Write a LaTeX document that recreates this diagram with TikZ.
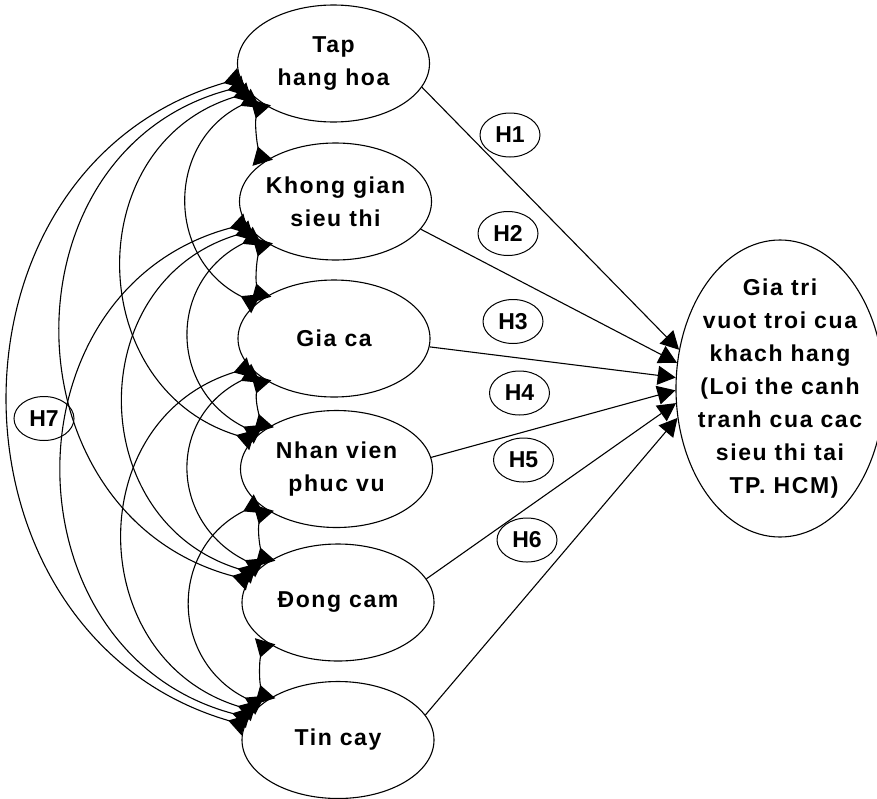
\documentclass[tikz,border=0pt]{standalone}
\usepackage{fontspec}
\setmainfont{Liberation Sans}
\newfontfamily\lblfont{Liberation Sans}[LetterSpace=7]
\newfontfamily\hfont{Liberation Sans}
\usetikzlibrary{shapes.geometric,arrows.meta}
\begin{document}
\begin{tikzpicture}[x=1pt,y=-1pt,
  construct/.style={ellipse,draw,line width=1.1pt,minimum width=192pt,minimum height=117pt,
    inner sep=-6pt,align=center,font=\lblfont\bfseries\fontsize{23}{33}\selectfont},
  target/.style={ellipse,draw,line width=1.1pt,minimum width=208pt,minimum height=297pt,
    inner sep=-14pt,align=center,font=\lblfont\bfseries\fontsize{23}{33}\selectfont},
  hyp/.style={ellipse,draw,line width=1pt,minimum width=60pt,minimum height=44pt,
    inner sep=0pt,font=\hfont\bfseries\fontsize{23}{28}\selectfont},
  link/.style={line width=1.1pt,-{Triangle[length=18pt,width=19pt]}},
  corr/.style={line width=1.1pt,{Triangle[reversed,length=17pt,width=21pt]}-{Triangle[reversed,length=17pt,width=21pt]}}
]
\useasboundingbox (0,0) rectangle (877,798);

\node[construct] (tap) at (333.5,63.5) {Tap\\hang hoa};
\node[construct] (kg)  at (335.5,201.5) {Khong gian\\sieu thi};
\node[construct] (gia) at (334,338.5) {Gia ca};
\node[construct] (nv)  at (336.5,469) {Nhan vien\\phuc vu};
\node[construct] (dc)  at (338,602.5) {Đong cam};
\node[construct] (tc)  at (338,740) {Tin cay};
\node[target] (out) at (780,388.5) {Gia tri\\vuot troi cua\\khach hang\\(Loi the canh\\tranh cua cac\\sieu thi tai\\\ TP. HCM)};

\node[hyp] (h1) at (510,135) {H1};
\node[hyp] (h2) at (508,233.5) {H2};
\node[hyp] (h3) at (513,321.5) {H3};
\node[hyp] (h4) at (519.5,393) {H4};
\node[hyp] (h5) at (523.5,460) {H5};
\node[hyp] (h6) at (527,540) {H6};
\node[hyp] (h7) at (44,418.5) {H7};

% paths to the outcome
\draw[link] (tap.-15) -- (out.159);
\draw[link] (kg.-18) -- (out.166);
\draw[link] (gia.-5) -- (out.174);
\draw[link] (nv.7) -- (out.181);
\draw[link] (dc.15) -- (out.188);
\draw[link] (tc.16) -- (out.196);

% correlations, span 1
\draw[corr] (tap.208) .. controls +(-6,20) and +(-6,-20) .. (kg.152);
\draw[corr] (kg.208) .. controls +(-6,20) and +(-6,-20) .. (gia.152);
\draw[corr] (gia.208) .. controls +(-6,20) and +(-6,-20) .. (nv.152);
\draw[corr] (nv.208) .. controls +(-6,20) and +(-6,-20) .. (dc.152);
\draw[corr] (dc.208) .. controls +(-6,20) and +(-6,-20) .. (tc.152);
% span 2
\draw[corr] (tap.204) .. controls +(-90,45) and +(-90,-45) .. (gia.156);
\draw[corr] (kg.204) .. controls +(-90,45) and +(-90,-45) .. (nv.156);
\draw[corr] (gia.204) .. controls +(-90,45) and +(-90,-45) .. (dc.156);
\draw[corr] (nv.204) .. controls +(-90,45) and +(-90,-45) .. (tc.156);
% span 3
\draw[corr] (tap.199) .. controls +(-170,52) and +(-170,-52) .. (nv.161);
\draw[corr] (kg.199) .. controls +(-170,52) and +(-170,-52) .. (dc.161);
\draw[corr] (gia.199) .. controls +(-170,52) and +(-170,-52) .. (tc.161);
% span 4
\draw[corr] (tap.194) .. controls +(-245,65) and +(-245,-65) .. (dc.166);
\draw[corr] (kg.194) .. controls +(-245,65) and +(-245,-65) .. (tc.166);
% span 5
\draw[corr] (tap.189) .. controls +(-310,90) and +(-310,-90) .. (tc.171);
\end{tikzpicture}
\end{document}
